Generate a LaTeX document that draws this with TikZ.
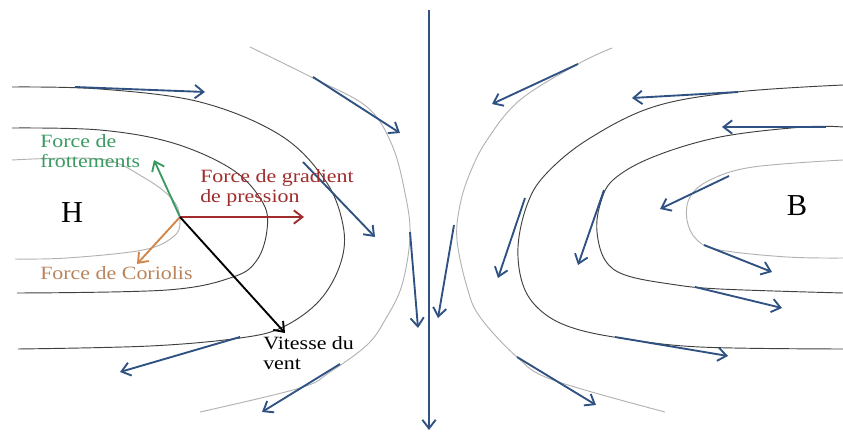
\documentclass[tikz,border=0pt]{standalone}
\usepackage{fontspec}
\setmainfont{Liberation Serif}
\usetikzlibrary{arrows.meta}
\definecolor{vent}{HTML}{2F5282}
\definecolor{frott}{HTML}{3A9A62}
\definecolor{grad}{HTML}{A02C2C}
\definecolor{corio}{HTML}{D2864A}
\definecolor{coriotxt}{HTML}{B9845C}
\tikzset{
  isofonce/.style={draw=black!75, line width=0.8pt},
  isoclair/.style={draw=black!30, line width=0.8pt},
  fleche/.style={-{Straight Barb[length=2.6mm,width=4mm]}, line width=1.6pt, draw=vent},
  force/.style={-{Straight Barb[length=2.6mm,width=4mm]}, line width=1.6pt, draw=#1},
  lbl/.style={text=#1, font=\fontsize{16}{17}\selectfont, xscale=1.17,
              inner sep=0pt, align=left, anchor=north west},
  centre/.style={font=\fontsize{26}{26}\selectfont, inner sep=0pt, anchor=base},
}
\begin{document}
\begin{tikzpicture}[x=0.3mm, y=-0.3mm]
  \useasboundingbox (0,0) rectangle (843,439);
  % isobares autour de H
  \draw[isofonce] plot[smooth, tension=0.6] coordinates {(12,87) (100,89) (200,102) (280,135)
    (325,180) (343,225) (341,262) (320,300) (283,327) (240,338) (150,346) (18,349)};
  \draw[isofonce] plot[smooth, tension=0.6] coordinates {(12,128) (100,130) (173,143) (233,170)
    (263,203) (267,230) (257,260) (233,277) (167,290) (17,293)};
  \draw[isoclair] plot[smooth, tension=0.6] coordinates {(12,160) (100,159) (143,177) (173,200)
    (180,222) (173,237) (143,250) (67,258) (15,259)};
  \draw[isoclair] plot[smooth, tension=0.6] coordinates {(250,47) (313,78) (367,107) (392,145)
    (405,193) (410,235) (402,285) (385,320) (367,345) (330,372) (300,388) (200,412)};
  % isobares autour de B
  \draw[isofonce] plot[smooth, tension=0.6] coordinates {(843,85) (737,92) (653,107) (587,140)
    (545,175) (527,205) (518,247) (523,285) (540,310) (570,327) (620,338) (700,347) (843,349)};
  \draw[isofonce] plot[smooth, tension=0.6] coordinates {(843,127) (803,127) (720,137) (653,157)
    (613,180) (600,205) (597,232) (605,260) (625,275) (670,284) (720,289) (843,293)};
  \draw[isoclair] plot[smooth, tension=0.6] coordinates {(843,160) (753,167) (710,180) (690,197)
    (687,220) (697,240) (720,250) (787,257) (843,258)};
  \draw[isoclair] plot[smooth, tension=0.6] coordinates {(612,48) (578,64) (520,100) (487,140)
    (470,173) (460,205) (457,240) (467,287) (480,317) (517,357) (553,380) (665,412)};
  % axe central
  \coordinate (haut) at (429,10);
  \coordinate (bas) at (429,430);
  \draw[fleche] (haut) -- (bas);
  % vent le long des isobares
  \foreach \xa/\ya/\xb/\yb in {75/87/205/92, 313/77/400/133, 303/162/375/237, 410/232/418/328,
      240/337/120/372, 340/364/262/412, 578/64/492/104, 738/92/632/98, 826/127/722/127,
      729/176/660/209, 525/198/498/278, 604/190/578/265, 704/245/772/272, 695/287/782/308,
      615/337/728/356, 517/357/596/405, 454/225/438/318}
    \draw[fleche] (\xa,\ya) -- (\xb,\yb);
  % centres
  \node[centre] (H) at (72,222) {H};
  \node[centre] (B) at (797,215) {B};
  % forces
  \coordinate (o) at (180,217);
  \coordinate (f) at (154,160);
  \coordinate (g) at (304,217);
  \coordinate (c) at (137,264);
  \coordinate (v) at (285,333);
  \draw[force=frott] (o) -- (f);
  \draw[force=grad] (o) -- (g);
  \draw[force=corio] (o) -- (c);
  \draw[force=black] (o) -- (v);
  \node[lbl=frott] (lf) at (40,134) {Force de\\frottements};
  \node[lbl=grad] (lg) at (200,169) {Force de gradient\\de pression};
  \node[lbl=coriotxt] (lc) at (40,266) {Force de Coriolis};
  \node[lbl=black] (lv) at (263,336) {Vitesse du\\vent};
\end{tikzpicture}
\end{document}
